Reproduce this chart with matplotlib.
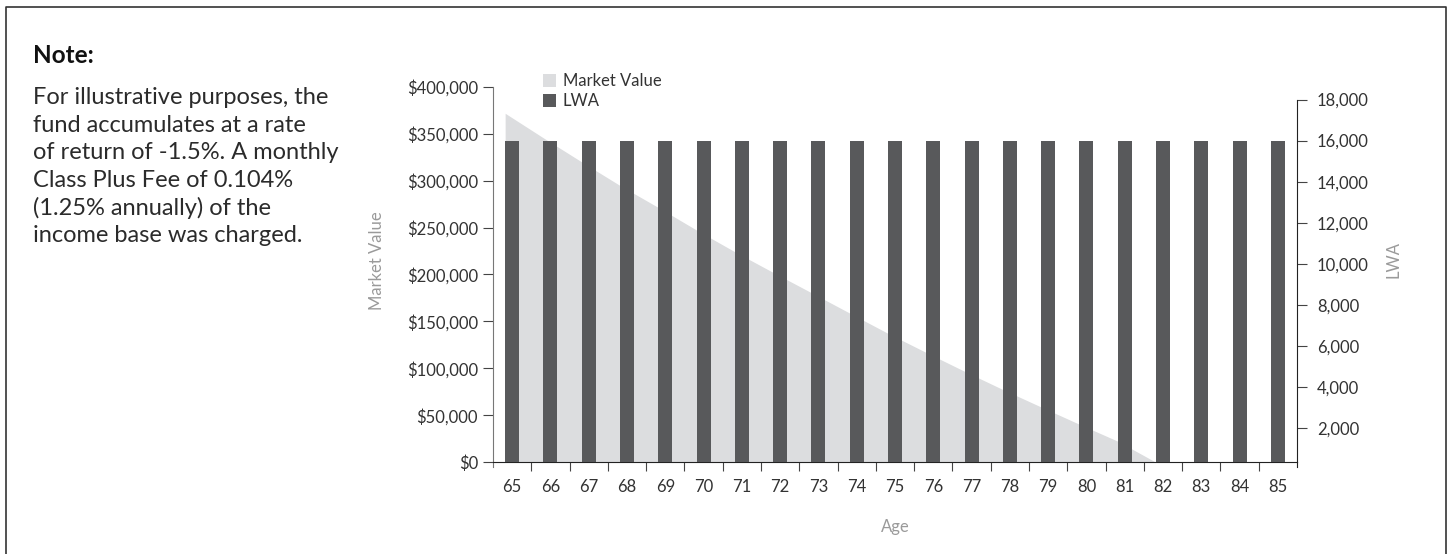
import numpy as np
import matplotlib
matplotlib.use("Agg")
import matplotlib.pyplot as plt
from matplotlib.patches import Patch
from matplotlib.lines import Line2D
from matplotlib.ticker import FuncFormatter

plt.rcParams['font.family'] = ['Lato', 'DejaVu Sans']

# ---- data ----
ages = [65, 66, 67, 68, 69, 70, 71, 72, 73, 74, 75, 76, 77, 78, 79, 80, 81, 82, 83, 84, 85]
market_value = [371700, 345500, 319900, 294800, 271400, 247300, 224200, 202200, 180600,
                158900, 137300, 116900, 96900, 77500, 58900, 40500, 22500, 0, 0, 0, 0]
lwa = [16000, 16000, 16000, 16000, 16000, 16000, 16000, 16000, 16000, 16000, 16000,
       16000, 16000, 16000, 16000, 16000, 16000, 16000, 16000, 16000, 16000]
mv_ticks = [0, 50000, 100000, 150000, 200000, 250000, 300000, 350000, 400000]
lwa_ticks = [2000, 4000, 6000, 8000, 10000, 12000, 14000, 16000, 18000]
series_names = ['Market Value', 'LWA']
note_title = 'Note:'
note_lines = ['For illustrative purposes, the',
              'fund accumulates at a rate',
              'of return of -1.5%. A monthly',
              'Class Plus Fee of 0.104%',
              '(1.25% annually) of the',
              'income base was charged.']

AREA_C = '#DCDDDF'
BAR_C = '#58595B'
TXT_C = '#333333'
TITLE_C = '#9A9A9A'

W, H = 1449, 554
fig = plt.figure(figsize=(W / 100, H / 100), dpi=100)
x0, x1, ytop, ybot = 493, 1297, 86.7, 462.3
ax = fig.add_axes([x0 / W, 1 - ybot / H, (x1 - x0) / W, (ybot - ytop) / H])
ax.patch.set_alpha(0)

x = np.arange(len(ages))
bar_w = 0.366

ax.fill_between(x - bar_w / 2, market_value, 0, color=AREA_C, lw=0, zorder=1)
ax.set_xlim(-0.5, len(ages) - 0.5)
ax.set_ylim(0, 400000)

ax2 = ax.twinx()
ax2.bar(x, lwa, width=bar_w, color=BAR_C, zorder=2)
ax2.set_ylim(345, 18623)

# spines
for s in ['top', 'right']:
    ax.spines[s].set_visible(False)
for s in ['top', 'left', 'bottom']:
    ax2.spines[s].set_visible(False)
ax.spines['left'].set_color('#777777')
ax.spines['bottom'].set_color('#222222')
ax2.spines['right'].set_color('#222222')
ax2.spines['right'].set_bounds(345, 18000)
# small spine extensions below the baseline
ext = 4.5 / (ybot - ytop)
ax.add_line(Line2D([0, 0], [0, -ext], transform=ax.transAxes, color='#777777', lw=0.8, clip_on=False))
ax.add_line(Line2D([1, 1], [0, -ext], transform=ax.transAxes, color='#222222', lw=0.8, clip_on=False))

# x axis
ax.set_xticks(x)
ax.set_xticklabels([str(a) for a in ages])
ax.tick_params(axis='x', which='major', length=0, pad=12, labelsize=12, labelcolor=TXT_C)
ax.set_xticks(np.arange(0.5, len(ages) - 1, 1), minor=True)
ax.tick_params(axis='x', which='minor', length=6.5, width=0.8, color='#444444', direction='out')

# left y axis
ax.set_yticks(mv_ticks)
ax.yaxis.set_major_formatter(FuncFormatter(lambda v, p: '${:,.0f}'.format(v)))
ax.tick_params(axis='y', length=7.2, width=0.8, color='#444444', pad=3.6, labelsize=12, labelcolor=TXT_C)

# right y axis
ax2.set_yticks(lwa_ticks)
ax2.yaxis.set_major_formatter(FuncFormatter(lambda v, p: '{:,.0f}'.format(v)))
ax2.tick_params(axis='y', length=7.2, width=0.8, color='#444444', pad=7.2, labelsize=12, labelcolor=TXT_C)

# axis titles
ax.set_ylabel('Market Value', fontsize=12, color=TITLE_C)
ax.yaxis.label.set_va('center')
ax.yaxis.set_label_coords((377 - x0) / (x1 - x0), (ybot - 261) / (ybot - ytop))
ax2.set_ylabel('LWA', fontsize=12, color=TITLE_C, rotation=90)
ax2.yaxis.label.set_va('center')
ax2.yaxis.set_label_coords((1393 - x0) / (x1 - x0), (ybot - 260) / (ybot - ytop))
ax.set_xlabel('Age', fontsize=12, color=TITLE_C)
ax.xaxis.label.set_va('center')
ax.xaxis.set_label_coords(0.5, (ybot - 527) / (ybot - ytop))

# legend
handles = [Patch(facecolor=AREA_C, edgecolor='none'), Patch(facecolor=BAR_C, edgecolor='none')]
ax.legend(handles, series_names, loc='upper left', bbox_to_anchor=(543 / W, 1 - 73.5 / H),
          bbox_transform=fig.transFigure, frameon=False, fontsize=12, borderpad=0,
          borderaxespad=0, handlelength=0.8, handleheight=0.8, handletextpad=0.4,
          labelspacing=0.22, labelcolor=TXT_C)

# note
fig.text(33 / W, 1 - 63 / H, note_title, fontsize=17.5, fontweight='bold', color='#111111', va='baseline')
for i, line in enumerate(note_lines):
    fig.text(33 / W, 1 - (104 + 27.7 * i) / H, line, fontsize=17,
             color='#2b2b2b', va='baseline')

# frame
fig.add_artist(Line2D([6 / W, 6 / W, 1445.7 / W, 1445.7 / W], [0, 1 - 7 / H, 1 - 7 / H, 0],
                      transform=fig.transFigure, color='#333333', lw=1.2))

fig.savefig('out.png', dpi=100)
